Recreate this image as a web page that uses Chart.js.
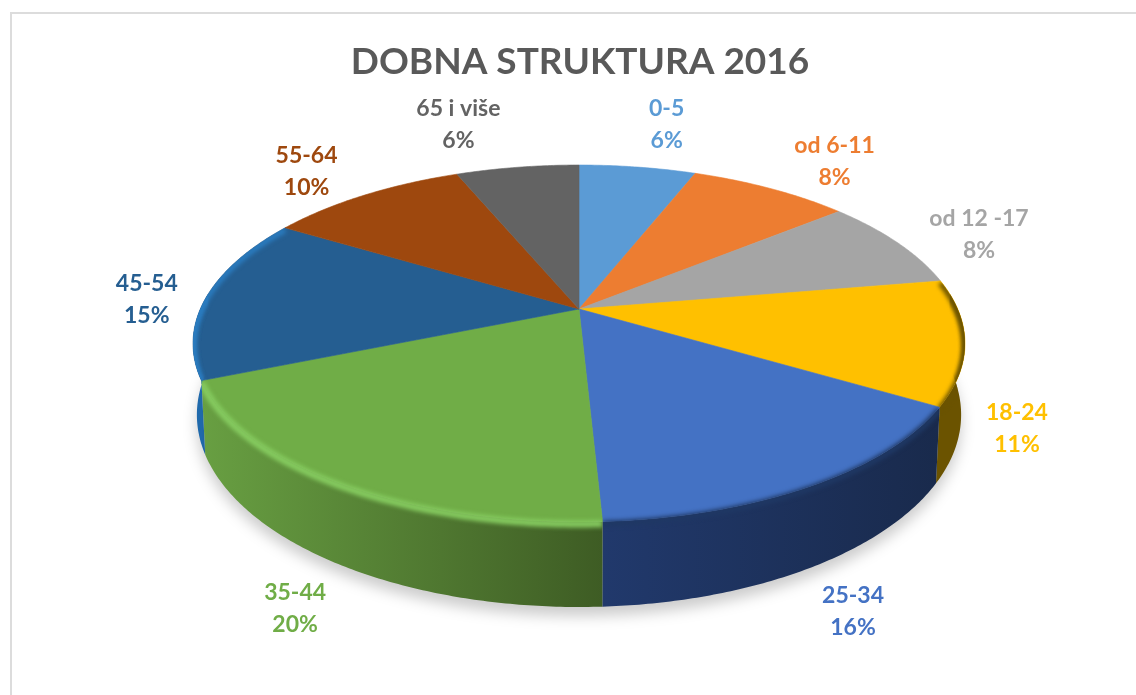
<!DOCTYPE html>
<html>
<head>
<meta charset="utf-8">
<title>Dobna struktura 2016</title>
<script src="https://cdn.jsdelivr.net/npm/chart.js@4"></script>
<style>
    html, body { margin: 0; padding: 0; background: #fff; overflow: hidden; }
    #frame { position: absolute; left: 10px; top: 12px; width: 1200px; height: 800px; border: 2px solid #dcdcdc; }
    #myChart { position: absolute; left: 0; top: 0; }
</style>
</head>
<body>
<div id="frame"></div>
<canvas id="myChart" width="1136" height="695"></canvas>
<script>
const categories = ['0-5', 'od 6-11', 'od 12 -17', '18-24', '25-34', '35-44', '45-54', '55-64', '65 i više'];
// procjena s kriski; zaokruzeno daje natpise 6, 8, 8, 11, 16, 20, 15, 10, 6
const shares = [5.9, 8.1, 8.3, 11.3, 15.6, 19.5, 15.0, 10.1, 6.2];

const sliceColors = ['#5b9bd5', '#ed7d31', '#a5a5a5', '#ffc000', '#4472c4', '#70ad47', '#255e91', '#9e480e', '#636363'];
const wallColors = [null, null, null, ['#6b5300', '#6b5300'], ['#21396c', '#192a4c'], ['#689f42', '#3e5c24'], ['#1f69ab', '#1f5f99'], null, null];
const rimColors = [null, null, null, '#6b5300', '#1f3864', '#86cc60', '#2a7cc0', null, null];
// pomak natpisa od ruba kriske (px)
const labelOffsets = [[29, -43], [64, -27], [81.5, -8], [52, 87], [40.5, 126], [-42.5, 126], [-60, 3], [-58, -24], [-59, -43]];

// perspektiva: kruzni kolac -> elipsa s pomaknutim sredistem
const pie = { cx: 579, cy: 309, a: 378.7, b: 171.8, k: 0.1933, depth: 68.6, shrink: 0.99 };

function rimPoint(theta, down) {
    const u = Math.sin(theta);
    const v = -Math.cos(theta);
    const w = 1 - pie.k * v;
    const x = pie.a * u / w;
    const y = pie.cy + pie.b * v / w;
    if (down) return [pie.cx + x * pie.shrink, y + pie.depth / w];
    return [pie.cx + x, y];
}

function traceRim(ctx, from, to, down) {
    const steps = Math.max(2, Math.ceil(Math.abs(to - from) / 0.01));
    for (let i = 0; i <= steps; i++) {
        const p = rimPoint(from + (to - from) * i / steps, down);
        ctx.lineTo(p[0], p[1]);
    }
}

function sliceAngles(chart) {
    return chart.getDatasetMeta(0).data.map(arc => {
        const props = arc.getProps(['startAngle', 'endAngle'], true);
        return [props.startAngle + Math.PI / 2, props.endAngle + Math.PI / 2];
    });
}

const wallFrom = 85 * Math.PI / 180;
const wallTo = 275 * Math.PI / 180;

function wallRange(range) {
    return [Math.max(range[0], wallFrom), Math.min(range[1], wallTo)];
}

function traceTop(ctx, range) {
    ctx.beginPath();
    ctx.moveTo(pie.cx, pie.cy);
    traceRim(ctx, range[0], range[1], false);
    ctx.closePath();
}

function traceWall(ctx, range) {
    const wall = wallRange(range);
    ctx.beginPath();
    traceRim(ctx, wall[0], wall[1], false);
    traceRim(ctx, wall[1], wall[0], true);
    ctx.closePath();
}

const pie3d = {
    id: 'pie3d',
    beforeDatasetDraw(chart) {
        const ctx = chart.ctx;
        const angles = sliceAngles(chart);

        // sjena ispod kolaca
        ctx.save();
        ctx.filter = 'blur(7px)';
        ctx.fillStyle = 'rgba(0, 0, 0, 0.2)';
        ctx.translate(0, 9);
        ctx.beginPath();
        traceRim(ctx, 0, Math.PI * 2, true);
        ctx.closePath();
        ctx.fill();
        ctx.restore();

        // bocne stijenke
        angles.forEach((range, i) => {
            if (!wallColors[i]) return;
            const wall = wallRange(range);
            if (wall[1] <= wall[0]) return;
            const xs = [rimPoint(wall[0], false)[0], rimPoint(wall[1], false)[0]];
            const grad = ctx.createLinearGradient(Math.min(xs[0], xs[1]), 0, Math.max(xs[0], xs[1]), 0);
            grad.addColorStop(0, wallColors[i][0]);
            grad.addColorStop(1, wallColors[i][1]);
            ctx.fillStyle = grad;
            traceWall(ctx, range);
            ctx.fill();
        });

        // gornja ploha
        angles.forEach((range, i) => {
            ctx.fillStyle = sliceColors[i];
            ctx.strokeStyle = sliceColors[i];
            ctx.lineWidth = 0.6;
            traceTop(ctx, range);
            ctx.fill();
            ctx.stroke();
        });

        // rub plohe (bevel), jednom na plohi i jednom na stijenci
        angles.forEach((range, i) => {
            if (!rimColors[i]) return;
            [traceTop, traceWall].forEach(clipPath => {
                ctx.save();
                clipPath(ctx, range);
                ctx.clip();
                ctx.filter = 'blur(2px)';
                ctx.strokeStyle = rimColors[i];
                ctx.lineWidth = i === 5 ? 7 : 6;
                ctx.translate(0, 2);
                ctx.beginPath();
                traceRim(ctx, range[0], range[1], false);
                ctx.stroke();
                ctx.restore();
            });
        });

        return false; // crtamo sami, bez ravnih lukova
    },
    afterDatasetsDraw(chart) {
        const ctx = chart.ctx;
        ctx.save();
        ctx.font = 'bold 23px Lato';
        ctx.textAlign = 'center';
        ctx.textBaseline = 'middle';
        sliceAngles(chart).forEach((range, i) => {
            const p = rimPoint((range[0] + range[1]) / 2, false);
            const x = p[0] + labelOffsets[i][0];
            const y = p[1] + labelOffsets[i][1];
            ctx.fillStyle = sliceColors[i];
            ctx.fillText(categories[i], x, y - 16);
            ctx.fillText(Math.round(shares[i]) + '%', x, y + 16);
        });
        ctx.restore();
    }
};

new Chart(document.getElementById('myChart').getContext('2d'), {
    type: 'pie',
    data: {
        labels: categories,
        datasets: [{
            data: shares,
            backgroundColor: sliceColors,
            borderWidth: 0,
        }]
    },
    options: {
        responsive: false,
        animation: false,
        layout: { padding: { left: 24 } },
        plugins: {
            legend: { display: false },
            tooltip: { enabled: false },
            title: {
                display: true,
                text: 'DOBNA STRUKTURA 2016',
                color: '#595959',
                font: { family: 'Lato', size: 37, weight: 'bold' },
                padding: { top: 40, bottom: 10 },
            }
        }
    },
    plugins: [pie3d]
});
</script>
</body>
</html>
